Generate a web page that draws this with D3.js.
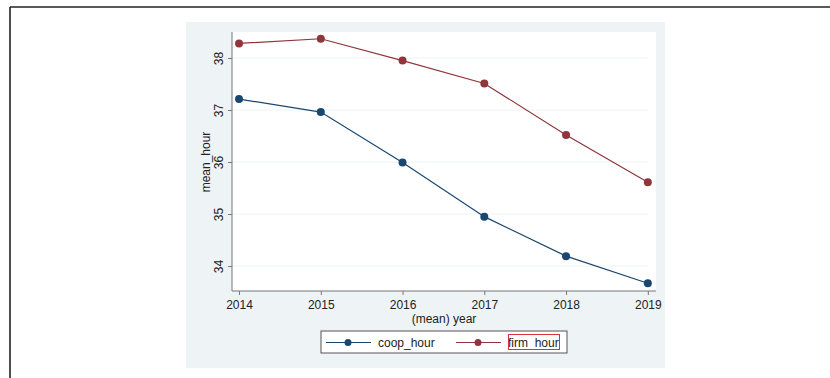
<!DOCTYPE html>
<html>
<head>
<meta charset="utf-8">
<script src="https://cdn.jsdelivr.net/npm/d3@7"></script>
<style>
  body { margin: 0; background: #fff; }
  svg { display: block; font-family: "Liberation Sans", Arial, sans-serif; }
</style>
</head>
<body>
<svg width="830" height="378"></svg>
<script>
// data
let years = [2014, 2015, 2016, 2017, 2018, 2019];
let coopHour = [37.21, 36.96, 35.99, 34.95, 34.19, 33.67];
let firmHour = [38.28, 38.37, 37.95, 37.51, 36.52, 35.61];
let yTicks = [34, 35, 36, 37, 38];
let seriesNames = ['coop_hour', 'firm_hour'];
let seriesColors = ['#1a476f', '#90353b'];

let svg = d3.select('svg');

// outer frame (top + left only visible)
svg.append('line').attr('x1', 10).attr('y1', 7).attr('x2', 830).attr('y2', 7)
    .attr('stroke', '#222').attr('stroke-width', 1.6);
svg.append('line').attr('x1', 10).attr('y1', 7).attr('x2', 10).attr('y2', 378)
    .attr('stroke', '#222').attr('stroke-width', 1.6);

// graph region
svg.append('rect').attr('x', 186).attr('y', 22).attr('width', 479).attr('height', 346)
    .attr('fill', '#eef3f6');

// plot region
let plot = {l: 232, r: 656, t: 32, b: 291};
svg.append('rect').attr('x', plot.l).attr('y', plot.t)
    .attr('width', plot.r - plot.l).attr('height', plot.b - plot.t)
    .attr('fill', '#fff');

let x = d3.scaleLinear().domain([2013.914, 2019.1]).range([plot.l, plot.r]);
let y = d3.scaleLinear().domain([33.52, 38.5]).range([plot.b, plot.t]);

// gridlines
svg.append('g').selectAll('line').data(yTicks).join('line')
    .attr('x1', plot.l).attr('x2', plot.r - 8)
    .attr('y1', d => y(d)).attr('y2', d => y(d))
    .attr('stroke', '#eef3f6').attr('stroke-width', 1);

// y axis
let yAxis = svg.append('g').attr('transform', 'translate(' + plot.l + ',0)')
    .call(d3.axisLeft(y).tickValues(yTicks).tickSize(4).tickPadding(6).tickFormat(d3.format('d')));
yAxis.select('.domain').attr('stroke', '#777').attr('d', 'M0,' + plot.t + 'V' + plot.b);
yAxis.selectAll('.tick line').attr('stroke', '#777');
yAxis.selectAll('.tick text')
    .attr('font-size', 12).attr('fill', '#222').attr('font-family', null)
    .attr('transform', 'rotate(-90,-10,0)')
    .attr('x', -10).attr('y', 1).attr('dy', 0).attr('text-anchor', 'middle');

// x axis
let xAxis = svg.append('g').attr('transform', 'translate(0,' + plot.b + ')')
    .call(d3.axisBottom(x).tickValues(years).tickSize(4).tickPadding(5).tickFormat(d3.format('d')));
xAxis.select('.domain').attr('stroke', '#777').attr('d', 'M' + plot.l + ',0H' + plot.r);
xAxis.selectAll('.tick line').attr('stroke', '#777');
xAxis.selectAll('.tick text').attr('font-size', 12).attr('fill', '#222').attr('font-family', null);

// axis titles
svg.append('text').attr('transform', 'translate(210,162) rotate(-90)')
    .attr('text-anchor', 'middle').attr('font-size', 12).attr('fill', '#222')
    .text('mean_hour');
svg.append('text').attr('x', 444).attr('y', 323)
    .attr('text-anchor', 'middle').attr('font-size', 12).attr('fill', '#222')
    .text('(mean) year');

// lines + markers
let line = d3.line().x((d, i) => x(years[i])).y(d => y(d));
[coopHour, firmHour].forEach(function(vals, k) {
    svg.append('path').datum(vals).attr('d', line)
        .attr('fill', 'none').attr('stroke', seriesColors[k]).attr('stroke-width', 1.2);
    svg.append('g').selectAll('circle').data(vals).join('circle')
        .attr('cx', (d, i) => x(years[i])).attr('cy', d => y(d)).attr('r', 4)
        .attr('fill', seriesColors[k]);
});

// legend
svg.append('rect').attr('x', 321).attr('y', 331).attr('width', 246).attr('height', 22)
    .attr('fill', '#fff').attr('stroke', '#555').attr('stroke-width', 1);
let legX = [326, 456];
seriesNames.forEach(function(name, k) {
    let g = svg.append('g');
    g.append('line').attr('x1', legX[k]).attr('x2', legX[k] + 45).attr('y1', 342.5).attr('y2', 342.5)
        .attr('stroke', seriesColors[k]).attr('stroke-width', 1.2);
    g.append('circle').attr('cx', legX[k] + 22).attr('cy', 342.5).attr('r', 3.5)
        .attr('fill', seriesColors[k]);
    g.append('text').attr('x', legX[k] + 52).attr('y', 347)
        .attr('font-size', 12).attr('fill', '#222').text(name);
});
// red highlight box around second legend label
svg.append('rect').attr('x', 508.5).attr('y', 334.5).attr('width', 51).attr('height', 15)
    .attr('fill', 'none').attr('stroke', '#d8323c').attr('stroke-width', 1);
</script>
</body>
</html>
